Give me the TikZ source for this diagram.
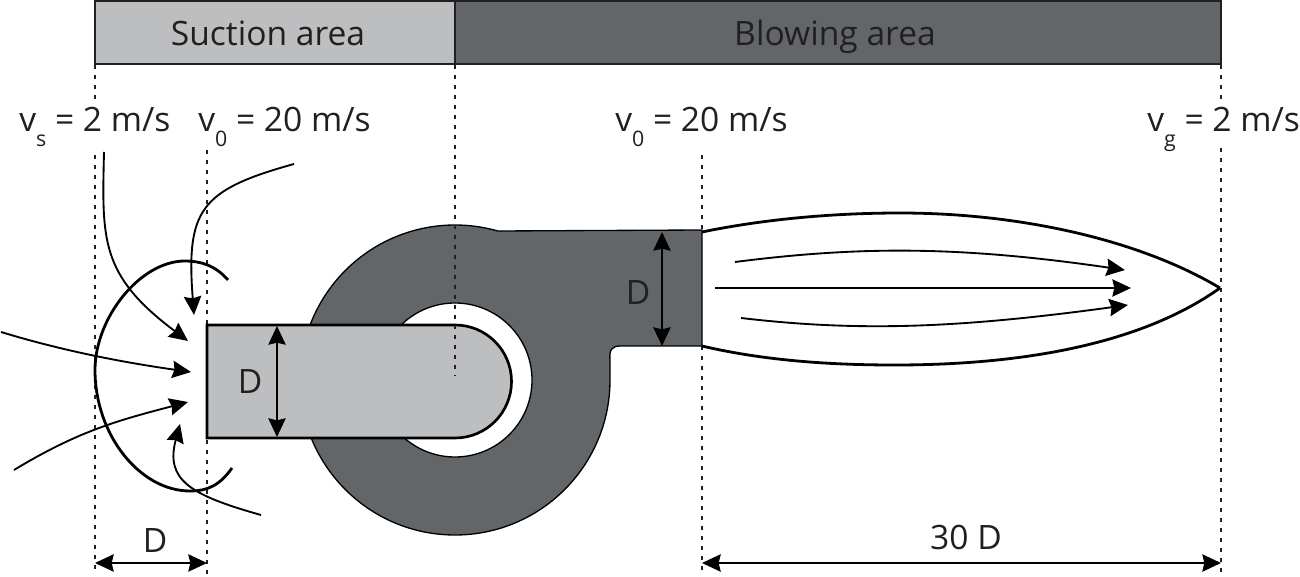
\documentclass[tikz,border=0pt]{standalone}
\usepackage{amsmath}
\usepackage{fontspec}
\setmainfont{Open Sans}
\usetikzlibrary{arrows.meta}
\definecolor{lightfill}{HTML}{BCBEC0}
\definecolor{darkfill}{HTML}{636668}
\definecolor{inktext}{HTML}{231F20}
\tikzset{
  dimline/.style={line width=1.4pt,color=black,{Stealth[length=14pt,width=13pt,inset=1.5pt]}-{Stealth[length=14pt,width=13pt,inset=1.5pt]}},
  flowline/.style={line width=1.4pt,color=black,-{Stealth[length=14pt,width=13pt,inset=1.5pt]}},
  guideline/.style={line width=1.4pt,color=inktext,dash pattern=on 3pt off 4.5pt},
  frontline/.style={line width=2.1pt,color=black},
  areabox/.style={draw=inktext,line width=1.5pt,minimum height=47.25pt,inner sep=0pt,outer sep=0pt},
  bigtext/.style={font=\fontsize{25.2}{28}\selectfont,color=inktext,inner sep=0.75pt},
}
\newcommand{\vsub}[1]{v\raisebox{-0.42em}{\fontsize{16}{16}\selectfont #1}}
\begin{document}
\begin{tikzpicture}[x=0.75pt,y=0.75pt,yscale=-1,xscale=1]
\useasboundingbox (0,0) rectangle (1300,577);

%Guide ends
\coordinate (ga) at (95,65);
\coordinate (gb) at (95,100);
\coordinate (gc) at (95,155);
\coordinate (gd) at (95,575);
\coordinate (ge) at (207,150);
\coordinate (gf) at (207,575);
\coordinate (gg) at (455,65);
\coordinate (gh) at (455,376);
\coordinate (gi) at (702,155);
\coordinate (gj) at (702,232);
\coordinate (gk) at (702,346);
\coordinate (gl) at (702,575);
\coordinate (gm) at (1221,65);
\coordinate (gn) at (1221,105);
\coordinate (go) at (1221,148);
\coordinate (gp) at (1221,572);

%Guides behind the parts
\draw [guideline] (ga) -- (gb);
\draw [guideline] (gc) -- (gd);
\draw [guideline] (ge) -- (gf);
\draw [guideline] (gi) -- (gj);
\draw [guideline] (gk) -- (gl);
\draw [guideline] (gm) -- (gn);
\draw [guideline] (go) -- (gp);

%Area bars
\node (suction) [areabox,fill=lightfill,anchor=north west,minimum width=270pt] at (95,1.5) {};
\node (blowing) [areabox,fill=darkfill,anchor=north west,minimum width=574.5pt] at (455,1.5) {};
\node (suctiontext) [bigtext,anchor=base] at (268,46) {Suction area};
\node (blowingtext) [bigtext,anchor=base] at (835,46) {Blowing area};

%Fan casing
\draw [line width=1pt,fill=darkfill] (610,380) arc [start angle=0,end angle=286,radius=155] -- (702,230) -- (702,346) -- (620,346) .. controls (612,346) and (609,350) .. (610,360) -- cycle;
\draw [line width=1pt,fill=white] (455,380) circle [radius=77];

%Suction pipe
\draw [line width=2pt,fill=lightfill] (207,325) -- (455,325) arc [start angle=-90,end angle=90,radius=56.5] -- (207,438) -- cycle;
\draw [guideline] (gg) -- (gh);

%Blowing jet
\coordinate (jeta) at (702,232);
\coordinate (jetb) at (702,346);
\coordinate (jettip) at (1220,288);
\draw [frontline] (jeta) .. controls (770,218) and (840,213) .. (900,213) .. controls (1020,213) and (1140,240) .. (jettip);
\draw [frontline] (jetb) .. controls (770,362) and (840,365) .. (895,365) .. controls (1020,365) and (1140,345) .. (jettip);

%Jet arrows
\coordinate (ja) at (735,262);
\coordinate (jb) at (1125,270);
\coordinate (jc) at (715,288);
\coordinate (jd) at (1131,288);
\coordinate (je) at (741,318);
\coordinate (jf) at (1128,305);
\draw [flowline] (ja) .. controls (860,246) and (960,246) .. (jb);
\draw [flowline] (jc) -- (jd);
\draw [flowline] (je) .. controls (860,332) and (960,328) .. (jf);

%Suction front
\coordinate (sa) at (228,280);
\coordinate (sb) at (232,468);
\draw [frontline] (sa) .. controls (215,265) and (200,261) .. (185,261) .. controls (140,261) and (95,318) .. (95,370) .. controls (95,435) and (140,491) .. (190,491) .. controls (208,491) and (220,485) .. (sb);

%Suction arrows
\coordinate (fa) at (104,152);
\coordinate (fb) at (188,341);
\coordinate (fc) at (294,164);
\coordinate (fd) at (194,315);
\coordinate (fe) at (1,332);
\coordinate (ff) at (191,372);
\coordinate (fg) at (14,470);
\coordinate (fh) at (188,402);
\coordinate (fi) at (261,515);
\coordinate (fj) at (180,424);
\draw [flowline] (fa) .. controls (102,240) and (100,275) .. (fb);
\draw [flowline] (fc) .. controls (200,190) and (186,210) .. (fd);
\draw [flowline] (fe) .. controls (60,350) and (120,362) .. (ff);
\draw [flowline] (fg) .. controls (80,430) and (120,420) .. (fh);
\draw [flowline] (fi) .. controls (190,495) and (165,480) .. (fj);

%Dimensions
\coordinate (da) at (277,326);
\coordinate (db) at (277,437);
\coordinate (dc) at (662,232);
\coordinate (dd) at (662,346);
\coordinate (de) at (95,563);
\coordinate (df) at (207,563);
\coordinate (dg) at (702,563);
\coordinate (dh) at (1221,563);
\draw [dimline] (da) -- (db);
\draw [dimline] (dc) -- (dd);
\draw [dimline] (de) -- (df);
\draw [dimline] (dg) -- (dh);

% Text Node
\node (inletd) [bigtext] at (250,382) {D};
\node (outletd) [bigtext] at (638,293) {D};
\node (widthd) [bigtext] at (155,541) {D};
\node (lengthd) [bigtext] at (966,537) {30 D};
\node (vsuction) [bigtext,anchor=base west] at (18,132) {\vsub{s} = 2 m/s};
\node (vinlet) [bigtext,anchor=base west] at (197,132) {\vsub{0} = 20 m/s};
\node (voutlet) [bigtext,anchor=base west] at (614,132) {\vsub{0} = 20 m/s};
\node (vjet) [bigtext,anchor=base west] at (1146,132) {\vsub{g} = 2 m/s};

\end{tikzpicture}
\end{document}
